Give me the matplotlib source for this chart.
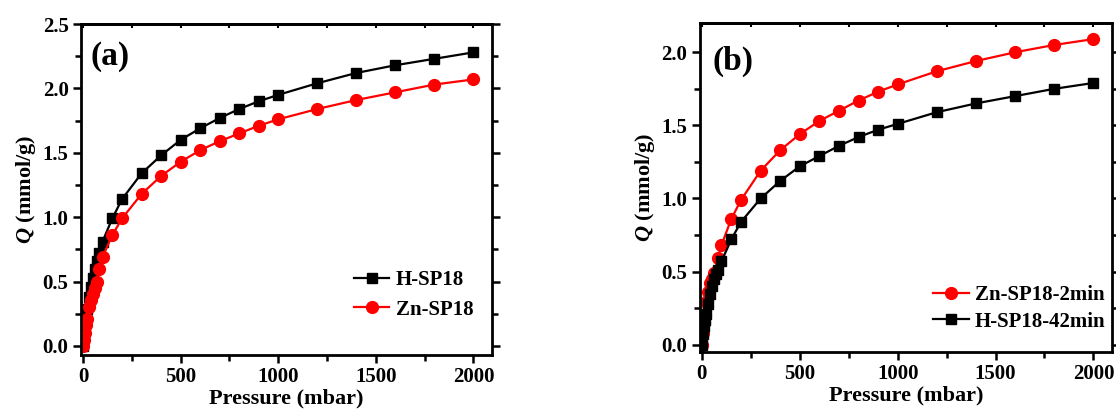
import matplotlib
matplotlib.use("Agg")
import matplotlib.pyplot as plt
from matplotlib.ticker import MultipleLocator

plt.rcParams['font.family'] = ['Liberation Serif', 'DejaVu Serif']
plt.rcParams['font.weight'] = 'bold'
plt.rcParams['mathtext.fontset'] = 'custom'
plt.rcParams['mathtext.it'] = 'Liberation Serif:italic:bold'
plt.rcParams['mathtext.rm'] = 'Liberation Serif:bold'

# ---- panel (a) data ----
p_a = [0, 5, 10, 15, 20, 30, 40, 50, 60, 70, 80, 100, 150, 200, 300, 400,
       500, 600, 700, 800, 900, 1000, 1200, 1400, 1600, 1800, 2000]
h_sp18 = [0.0, 0.10, 0.18, 0.24, 0.29, 0.38, 0.46, 0.53, 0.60, 0.66, 0.72, 0.81,
          0.99, 1.14, 1.34, 1.48, 1.60, 1.69, 1.77, 1.84, 1.90, 1.95, 2.04, 2.12,
          2.18, 2.23, 2.28]
zn_sp18 = [0.0, 0.05, 0.10, 0.16, 0.21, 0.30, 0.36, 0.40, 0.45, 0.50, 0.60, 0.69,
           0.86, 0.99, 1.18, 1.32, 1.43, 1.52, 1.59, 1.65, 1.71, 1.76, 1.84, 1.91,
           1.97, 2.03, 2.07]

# ---- panel (b) data ----
p_b = [0, 5, 10, 15, 20, 30, 40, 50, 60, 70, 80, 100, 150, 200, 300, 400,
       500, 600, 700, 800, 900, 1000, 1200, 1400, 1600, 1800, 2000]
zn_2min = [0.0, 0.08, 0.15, 0.20, 0.29, 0.36, 0.42, 0.45, 0.49, 0.50, 0.59, 0.68,
           0.86, 0.99, 1.19, 1.33, 1.44, 1.53, 1.60, 1.67, 1.73, 1.78, 1.87, 1.94,
           2.00, 2.05, 2.09]
h_42min = [0.0, 0.07, 0.13, 0.17, 0.21, 0.28, 0.35, 0.40, 0.45, 0.48, 0.51, 0.57,
           0.72, 0.84, 1.00, 1.12, 1.22, 1.29, 1.36, 1.42, 1.47, 1.51, 1.59, 1.65,
           1.70, 1.75, 1.79]


def style_axes(ax, ymin, ymax):
    ax.set_xlim(-10, 2095)
    ax.set_ylim(ymin, ymax)
    ax.xaxis.set_major_locator(MultipleLocator(500))
    ax.xaxis.set_minor_locator(MultipleLocator(250))
    ax.yaxis.set_major_locator(MultipleLocator(0.5))
    ax.yaxis.set_minor_locator(MultipleLocator(0.25))
    ax.yaxis.set_major_formatter(plt.FormatStrFormatter('%.1f'))
    for s in ax.spines.values():
        s.set_linewidth(2)
    ax.tick_params(which='both', direction='out', width=1.8, labelsize=15,
                   top=False, right=True, pad=3)
    ax.tick_params(which='major', length=6)
    ax.tick_params(which='minor', length=4)
    ax.set_xlabel('Pressure (mbar)', fontsize=16, fontweight='bold', labelpad=1)
    ax.set_ylabel(r'$Q$ (mmol/g)', fontsize=16, fontweight='bold', labelpad=3)
    # top ticks pointing inward
    sec = ax.secondary_xaxis('top')
    sec.xaxis.set_major_locator(MultipleLocator(500))
    sec.xaxis.set_minor_locator(MultipleLocator(250))
    sec.tick_params(which='both', direction='in', length=3, width=1.5,
                    labeltop=False)
    sec.spines['top'].set_linewidth(2)


fig = plt.figure(figsize=(11.16, 4.17), dpi=100)
ax1 = fig.add_axes([0.0726, 0.1487, 0.3683, 0.7937])
ax2 = fig.add_axes([0.6272, 0.1559, 0.3692, 0.7889])

mk = dict(linewidth=1.6, markersize=8.5)

ax1.plot(p_a, h_sp18, 's-', color='black', label='H-SP18', **{**mk, 'markersize': 7.5})
ax1.plot(p_a, zn_sp18, 'o-', color='red', label='Zn-SP18', **mk)
style_axes(ax1, -0.07, 2.5)
ax1.text(0.022, 0.95, '(a)', transform=ax1.transAxes, fontsize=24,
         fontweight='bold', va='top', ha='left')
ax1.legend(loc='lower right', bbox_to_anchor=(1.0, 0.05), frameon=False,
           fontsize=15, handlelength=1.7, handletextpad=0.3, labelspacing=0.45)

ax2.plot(p_b, zn_2min, 'o-', color='red', label='Zn-SP18-2min', **mk)
ax2.plot(p_b, h_42min, 's-', color='black', label='H-SP18-42min', **{**mk, 'markersize': 7.5})
style_axes(ax2, -0.05, 2.2)
ax2.text(0.03, 0.93, '(b)', transform=ax2.transAxes, fontsize=24,
         fontweight='bold', va='top', ha='left')
ax2.legend(loc='lower right', bbox_to_anchor=(1.03, 0.005), frameon=False,
           fontsize=15, handlelength=1.7, handletextpad=0.3, labelspacing=0.3)

fig.savefig('out.png', dpi=100)
